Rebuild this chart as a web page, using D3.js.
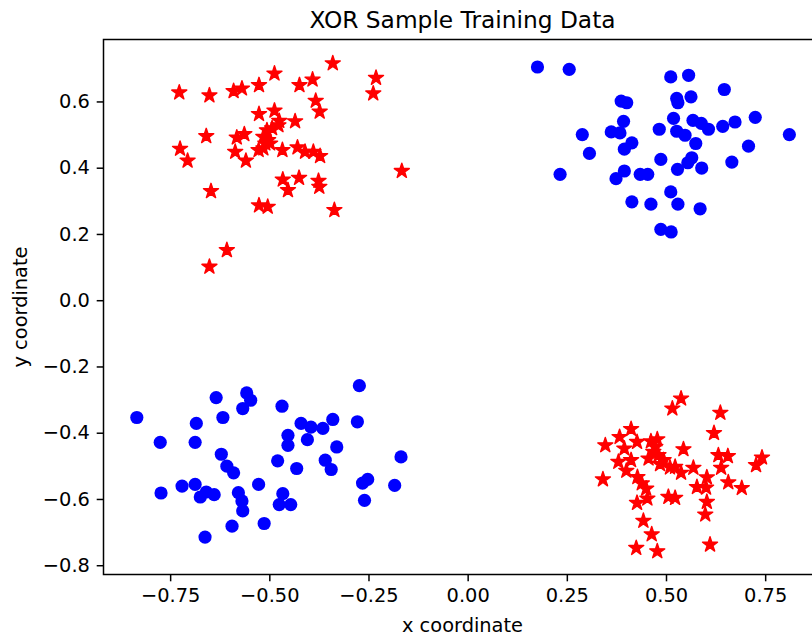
<!DOCTYPE html>
<html>
<head>
<meta charset="utf-8">
<script src="https://cdn.jsdelivr.net/npm/d3@7"></script>
<style>
  html, body { margin: 0; padding: 0; background: #fff; }
  svg { display: block; font-family: "DejaVu Sans", sans-serif; }
</style>
</head>
<body>
<svg id="chart" width="812" height="636"></svg>
<script>
// XOR training samples: class 1 (red stars) in quadrants II and IV,
// class 0 (blue circles) in quadrants I and III.
const starsUpperLeft = [
  [-0.727, 0.627], [-0.651, 0.618], [-0.590, 0.631], [-0.569, 0.639], [-0.526, 0.649],
  [-0.487, 0.684], [-0.424, 0.649], [-0.391, 0.666], [-0.340, 0.715], [-0.231, 0.671],
  [-0.238, 0.624], [-0.383, 0.602], [-0.373, 0.569], [-0.526, 0.562], [-0.487, 0.572],
  [-0.475, 0.541], [-0.477, 0.528], [-0.435, 0.540], [-0.506, 0.513], [-0.659, 0.495],
  [-0.582, 0.491], [-0.563, 0.501], [-0.515, 0.493], [-0.510, 0.473], [-0.498, 0.473],
  [-0.527, 0.453], [-0.515, 0.458], [-0.467, 0.453], [-0.429, 0.461], [-0.410, 0.448],
  [-0.389, 0.448], [-0.372, 0.435], [-0.725, 0.457], [-0.706, 0.421], [-0.586, 0.448],
  [-0.559, 0.421], [-0.166, 0.390], [-0.466, 0.364], [-0.425, 0.369], [-0.376, 0.360],
  [-0.374, 0.342], [-0.453, 0.332], [-0.647, 0.329], [-0.526, 0.286], [-0.504, 0.282],
  [-0.336, 0.272], [-0.607, 0.151], [-0.651, 0.101], [-0.493, 0.519], [-0.503, 0.483]
];

const starsLowerRight = [
  [0.538, -0.297], [0.516, -0.327], [0.637, -0.340], [0.412, -0.389], [0.383, -0.413],
  [0.347, -0.438], [0.395, -0.448], [0.427, -0.428], [0.462, -0.426], [0.478, -0.420],
  [0.621, -0.401], [0.544, -0.450], [0.468, -0.458], [0.481, -0.468], [0.456, -0.478],
  [0.494, -0.483], [0.380, -0.488], [0.412, -0.483], [0.632, -0.468], [0.656, -0.471],
  [0.742, -0.475], [0.727, -0.498], [0.510, -0.505], [0.523, -0.503], [0.538, -0.521],
  [0.569, -0.506], [0.639, -0.506], [0.400, -0.515], [0.341, -0.541], [0.428, -0.534],
  [0.439, -0.553], [0.450, -0.569], [0.603, -0.535], [0.578, -0.564], [0.601, -0.566],
  [0.657, -0.550], [0.691, -0.567], [0.453, -0.599], [0.506, -0.594], [0.523, -0.597],
  [0.427, -0.612], [0.603, -0.609], [0.599, -0.647], [0.443, -0.666], [0.464, -0.707],
  [0.425, -0.748], [0.478, -0.758], [0.611, -0.738], [0.473, -0.443], [0.485, -0.495]
];

const circlesUpperRight = [
  [0.176, 0.704], [0.256, 0.697], [0.512, 0.674], [0.557, 0.679], [0.647, 0.636],
  [0.387, 0.601], [0.401, 0.596], [0.527, 0.609], [0.530, 0.596], [0.563, 0.614],
  [0.393, 0.540], [0.519, 0.549], [0.568, 0.543], [0.589, 0.534], [0.607, 0.516],
  [0.643, 0.525], [0.674, 0.538], [0.725, 0.552], [0.811, 0.500], [0.289, 0.500],
  [0.362, 0.508], [0.384, 0.505], [0.483, 0.516], [0.527, 0.510], [0.548, 0.498],
  [0.575, 0.473], [0.414, 0.475], [0.395, 0.456], [0.307, 0.443], [0.708, 0.465],
  [0.487, 0.425], [0.565, 0.430], [0.555, 0.415], [0.590, 0.399], [0.529, 0.395],
  [0.666, 0.417], [0.233, 0.380], [0.395, 0.390], [0.374, 0.367], [0.435, 0.380],
  [0.454, 0.380], [0.512, 0.327], [0.414, 0.297], [0.462, 0.290], [0.530, 0.290],
  [0.586, 0.276], [0.487, 0.214], [0.513, 0.206]
];

const circlesLowerLeft = [
  [-0.273, -0.258], [-0.634, -0.294], [-0.557, -0.280], [-0.547, -0.302], [-0.567, -0.327],
  [-0.468, -0.320], [-0.834, -0.354], [-0.617, -0.354], [-0.684, -0.372], [-0.278, -0.367],
  [-0.420, -0.372], [-0.395, -0.383], [-0.365, -0.387], [-0.340, -0.360], [-0.453, -0.408],
  [-0.404, -0.421], [-0.775, -0.429], [-0.687, -0.429], [-0.453, -0.438], [-0.330, -0.443],
  [-0.621, -0.465], [-0.607, -0.501], [-0.590, -0.521], [-0.479, -0.485], [-0.431, -0.508],
  [-0.359, -0.483], [-0.344, -0.511], [-0.168, -0.473], [-0.720, -0.561], [-0.687, -0.556],
  [-0.659, -0.579], [-0.639, -0.587], [-0.674, -0.594], [-0.773, -0.582], [-0.578, -0.581],
  [-0.569, -0.606], [-0.567, -0.636], [-0.527, -0.556], [-0.466, -0.584], [-0.475, -0.617],
  [-0.446, -0.617], [-0.265, -0.552], [-0.252, -0.541], [-0.260, -0.604], [-0.184, -0.559],
  [-0.594, -0.682], [-0.513, -0.674], [-0.662, -0.715]
];

const xLimits = [-0.918, 0.892];
const yLimits = [-0.828, 0.787];
const xTicks = [-0.75, -0.50, -0.25, 0.00, 0.25, 0.50, 0.75];
const yTicks = [-0.8, -0.6, -0.4, -0.2, 0.0, 0.2, 0.4, 0.6];

const titleText = "XOR Sample Training Data";
const xLabelText = "x coordinate";
const yLabelText = "y coordinate";

// ---- layout ----
const axLeft = 103.5, axRight = 821.5, axTop = 39.5, axBottom = 574.5;
const tickLen = 6.8, tickPad = 6.8, lineW = 1.5;
const fontSize = 19.4, titleSize = 23.3;

const svg = d3.select("#chart");

const x = d3.scaleLinear().domain(xLimits).range([axLeft, axRight]);
const y = d3.scaleLinear().domain(yLimits).range([axBottom, axTop]);

// markers
const circleR = 6.6;
const starPath = d3.symbol().type(d3.symbolStar).size(70)();

const plot = svg.append("g");

function drawStars(data) {
  plot.append("g").selectAll("path").data(data).join("path")
    .attr("d", starPath)
    .attr("transform", d => `translate(${x(d[0])},${y(d[1])})`)
    .attr("fill", "#ff0000")
    .attr("stroke", "#ff0000")
    .attr("stroke-width", 1.4)
    .attr("stroke-linejoin", "round");
}

function drawCircles(data) {
  plot.append("g").selectAll("circle").data(data).join("circle")
    .attr("cx", d => x(d[0]))
    .attr("cy", d => y(d[1]))
    .attr("r", circleR)
    .attr("fill", "#0000ff");
}

drawStars(starsUpperLeft);
drawCircles(circlesUpperRight);
drawCircles(circlesLowerLeft);
drawStars(starsLowerRight);

// axes
const xAxis = d3.axisBottom(x).tickValues(xTicks).tickFormat(d3.format(".2f"))
  .tickSizeInner(tickLen).tickSizeOuter(0).tickPadding(tickPad);
const yAxis = d3.axisLeft(y).tickValues(yTicks).tickFormat(d3.format(".1f"))
  .tickSizeInner(tickLen).tickSizeOuter(0).tickPadding(tickPad);

const gx = svg.append("g").attr("transform", `translate(0,${axBottom})`).call(xAxis);
const gy = svg.append("g").attr("transform", `translate(${axLeft},0)`).call(yAxis);

[gx, gy].forEach(g => {
  g.select(".domain").remove();
  g.selectAll(".tick line").attr("stroke", "#000").attr("stroke-width", lineW);
  g.selectAll(".tick text")
    .attr("fill", "#000")
    .style("font-family", "'DejaVu Sans', sans-serif")
    .style("font-size", fontSize + "px");
});

// spines
svg.append("rect")
  .attr("x", axLeft).attr("y", axTop)
  .attr("width", axRight - axLeft).attr("height", axBottom - axTop)
  .attr("fill", "none").attr("stroke", "#000").attr("stroke-width", lineW);

// title and axis labels
svg.append("text")
  .attr("x", (axLeft + axRight) / 2).attr("y", 27.5)
  .attr("text-anchor", "middle")
  .style("font-size", titleSize + "px")
  .text(titleText);

svg.append("text")
  .attr("x", (axLeft + axRight) / 2).attr("y", 632)
  .attr("text-anchor", "middle")
  .style("font-size", fontSize + "px")
  .text(xLabelText);

svg.append("text")
  .attr("transform", `translate(27,${(axTop + axBottom) / 2}) rotate(-90)`)
  .attr("text-anchor", "middle")
  .style("font-size", fontSize + "px")
  .text(yLabelText);
</script>
</body>
</html>
